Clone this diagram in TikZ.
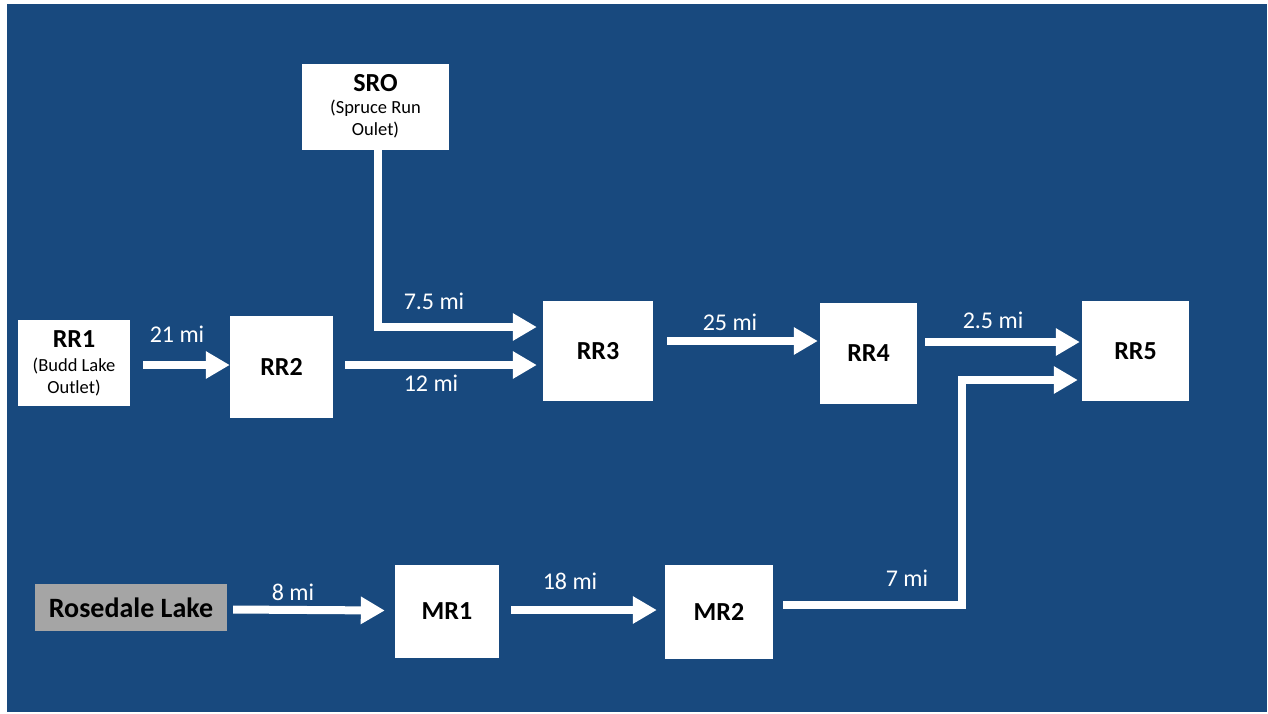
\documentclass[tikz,border=0pt]{standalone}
\usepackage{fontspec}
\setmainfont{Carlito}
\usetikzlibrary{arrows.meta,calc}
\definecolor{bgblue}{RGB}{24,73,126}
\definecolor{lakegray}{RGB}{165,165,165}
\newcommand\bigfont{\fontsize{26}{28}\selectfont\bfseries}
\newcommand\smallfont{\fontsize{18.5}{21}\selectfont\mdseries}
\newcommand\milefont{\fontsize{24}{26}\selectfont}
\tikzset{
  box/.style={fill=white, draw=none, inner sep=0pt, align=center, text=black, font=\bigfont},
  lake/.style={fill=lakegray, draw=none, inner sep=0pt, align=center, text=black, font=\fontsize{28}{30}\selectfont\bfseries},
  flow/.style={draw=white, line width=8pt, line join=miter, -{Triangle[length=24pt,width=26pt]}},
  dist/.style={text=white, font=\milefont, inner sep=0pt}
}
\begin{document}
\begin{tikzpicture}[x=1pt,y=-1pt]
\useasboundingbox (0,0) rectangle (1268,713);
\fill[white] (0,0) rectangle (1268,713);
\fill[bgblue] (7,4) rectangle (1267,712);

\node[box, minimum width=112pt, minimum height=86pt] (RR1) at (74,363)
  {RR1\\[-4pt]{\smallfont (Budd Lake}\\[-6pt]{\smallfont Outlet)}};
\node[box, minimum width=103pt, minimum height=102pt] (RR2) at (281.5,367) {RR2};
\node[box, minimum width=147pt, minimum height=86pt] (SRO) at (375.5,106.5)
  {SRO\\[-6pt]{\smallfont (Spruce Run}\\[-6pt]{\smallfont Oulet)}};
\node[box, minimum width=110pt, minimum height=100pt] (RR3) at (598,351) {RR3};
\node[box, minimum width=97pt, minimum height=101pt] (RR4) at (868.5,353.5) {RR4};
\node[box, minimum width=107pt, minimum height=100pt] (RR5) at (1135.5,351) {RR5};
\node[lake, minimum width=192pt, minimum height=47pt] (RL) at (131,607.5) {Rosedale Lake};
\node[box, minimum width=104pt, minimum height=93pt] (MR1) at (447,611.5) {MR1};
\node[box, minimum width=108pt, minimum height=94pt] (MR2) at (719,612) {MR2};

\draw[flow] ($(RR1.east)+(13,2)$) -- ($(RR2.west)+(0,-2)$);
\draw[flow] ($(RR2.east)+(12,-2)$) -- ($(RR3.west)+(-6,14)$);
\draw[flow] ($(SRO.south)+(2,0)$) |- ($(RR3.west)+(-6,-24)$);
\draw[flow] ($(RR3.east)+(14,-10)$) -- ($(RR4.west)+(-2,-12.5)$);
\draw[flow] ($(RR4.east)+(8,-11.5)$) -- ($(RR5.west)+(-2,-9)$);
\coordinate (bend) at (962,380);
\draw[flow] ($(MR2.east)+(10,-7)$) -| (bend) -- ($(RR5.west)+(-4,29)$);
\draw[flow] ($(RL.east)+(6,2)$) -- ($(MR1.west)+(-10,-1)$);
\draw[flow] ($(MR1.east)+(12,-1.5)$) -- ($(MR2.west)+(-8,-2)$);

\node[dist] (d21) at (177,334) {21 mi};
\node[dist] (d12) at (431,383) {12 mi};
\node[dist] (d75) at (434,301) {7.5 mi};
\node[dist] (d25) at (730,322) {25 mi};
\node[dist] (d25b) at (993,320) {2.5 mi};
\node[dist] (d7) at (907,578) {7 mi};
\node[dist] (d8) at (293,592) {8 mi};
\node[dist] (d18) at (570,581) {18 mi};
\end{tikzpicture}
\end{document}
